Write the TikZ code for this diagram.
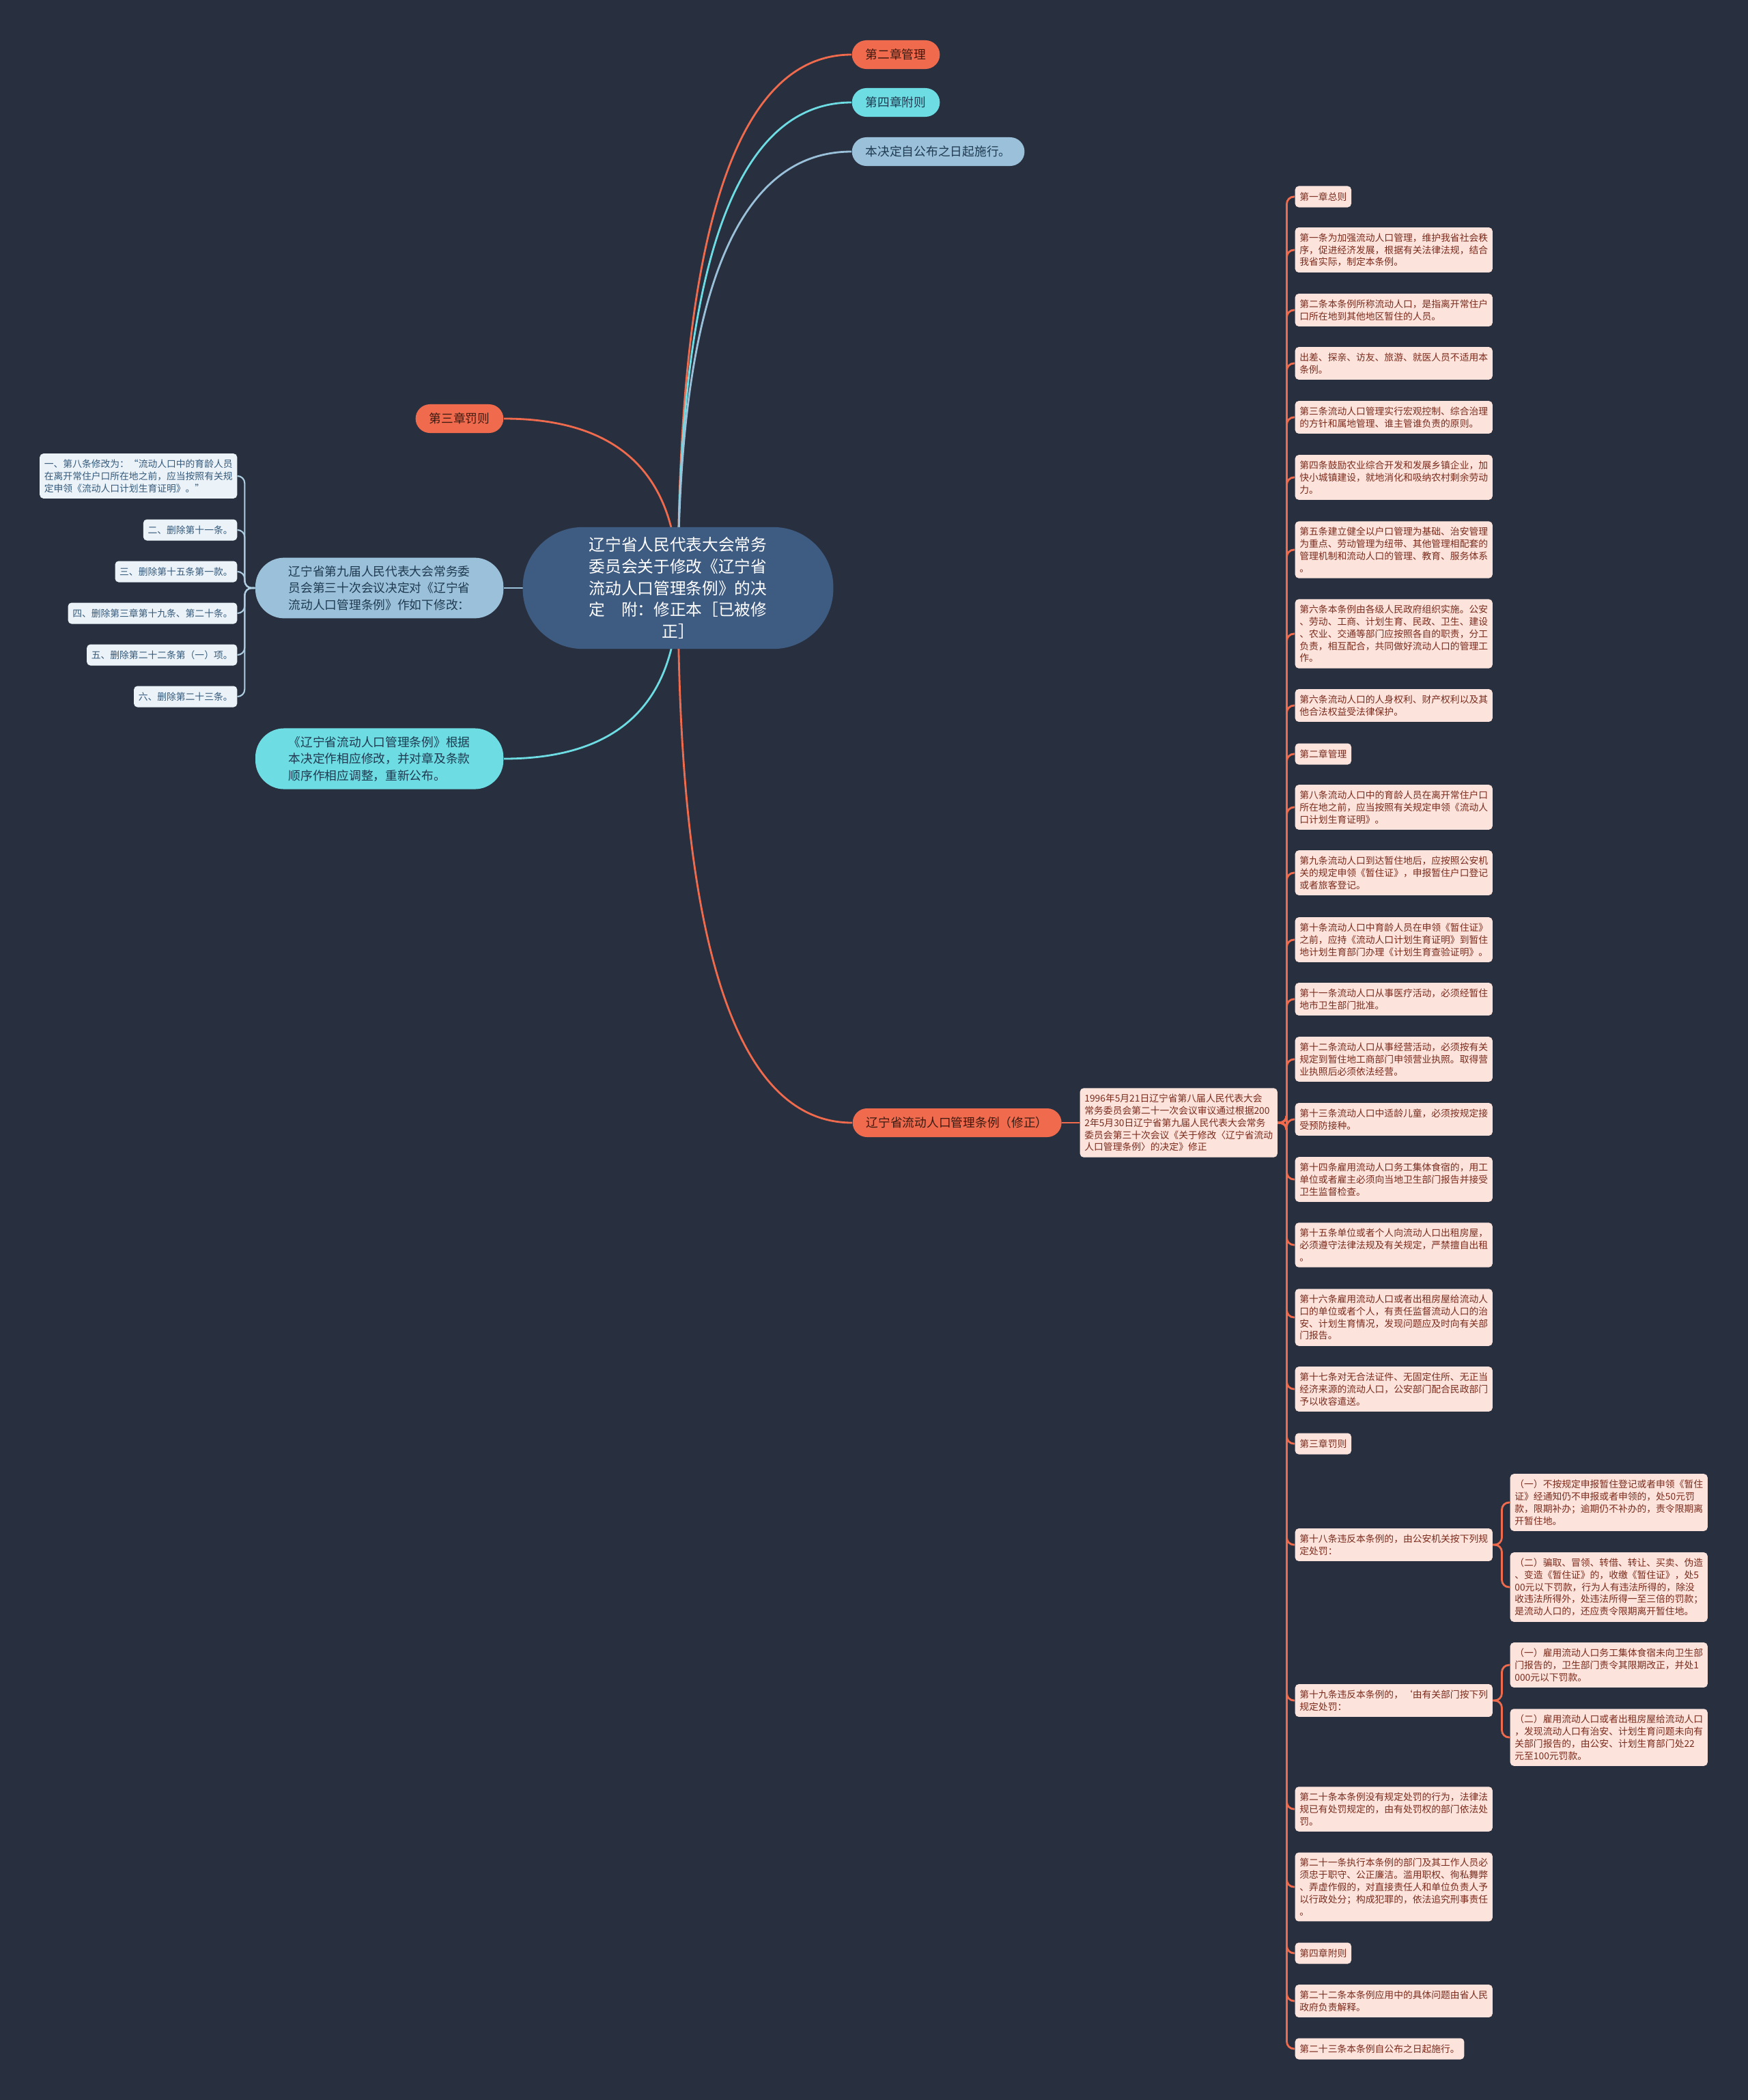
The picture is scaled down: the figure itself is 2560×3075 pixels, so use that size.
\documentclass[tikz,border=0pt]{standalone}
\usepackage{fontspec}
\newfontfamily\cjk{Noto Sans CJK SC}
\definecolor{bgcol}{HTML}{28303F}
\definecolor{rootcol}{HTML}{3E5B81}
\definecolor{orangecol}{HTML}{F06B4D}
\definecolor{cyancol}{HTML}{6EDCE3}
\definecolor{paleblue}{HTML}{9BC1DA}
\definecolor{leafpink}{HTML}{FCE4DD}
\definecolor{leaftext}{HTML}{7A2B1C}
\definecolor{leafblue}{HTML}{EBF3F9}
\definecolor{leafbluetext}{HTML}{35597A}
\definecolor{darktext}{HTML}{3B1A12}
\definecolor{navytext}{HTML}{1F3A50}
\pgfdeclarelayer{bg}
\pgfdeclarelayer{edges}
\pgfsetlayers{bg,edges,main}
\tikzset{
  root/.style={fill=rootcol, text=white, rounded corners=25pt, inner xsep=27.6pt, inner ysep=4.3pt,
    align=center, font=\cjk\fontsize{6.74pt}{8.96pt}\selectfont},
  pill/.style={rounded corners=6pt, inner xsep=5.7pt, inner ysep=3.45pt, minimum height=11.95pt,
    align=left, font=\cjk\fontsize{5.04pt}{6.97pt}\selectfont},
  bigpill/.style={pill, rounded corners=12pt, inner xsep=13.85pt, inner ysep=3.3pt},
  leaf/.style={fill=leafpink, text=leaftext, rounded corners=1.5pt, inner xsep=1.9pt, inner ysep=2.45pt,
    minimum height=8.82pt, align=left, anchor=west, font=\cjk\fontsize{3.92pt}{5.06pt}\selectfont},
  bleaf/.style={leaf, fill=leafblue, text=leafbluetext, anchor=east},
  branch/.style={line width=0.8pt},
  rline/.style={draw=orangecol, line width=0.8pt, rounded corners=3pt},
  bline/.style={draw=paleblue!80!white, line width=0.6pt, rounded corners=3pt}
}
\begin{document}
\begin{tikzpicture}[x=0.01cm,y=-0.01cm]
  \useasboundingbox (0,0) rectangle (2560,3075);
  \begin{pgfonlayer}{bg}
    \fill[bgcol] (0,0) rectangle (2560,3075);
  \end{pgfonlayer}

  % centre and first level
  \node[root] (root) at (993,861) {辽宁省人民代表大会常务\\委员会关于修改《辽宁省\\流动人口管理条例》的决\\定　附：修正本［已被修\\正］};
  \node[pill, fill=orangecol, text=darktext, anchor=west] (ch2) at (1247,80) {第二章管理};
  \node[pill, fill=cyancol, text=navytext, anchor=west] (ch4) at (1247,150) {第四章附则};
  \node[pill, fill=paleblue, text=navytext, anchor=west] (eff) at (1247,222) {本决定自公布之日起施行。};
  \node[pill, fill=orangecol, text=darktext, anchor=east] (ch3) at (738,613) {第三章罚则};
  \node[bigpill, fill=paleblue, text=navytext, anchor=east] (amend) at (738,861) {辽宁省第九届人民代表大会常务委\\员会第三十次会议决定对《辽宁省\\流动人口管理条例》作如下修改：};
  \node[bigpill, fill=cyancol, text=navytext, anchor=east] (renew) at (738,1111) {《辽宁省流动人口管理条例》根据\\本决定作相应修改，并对章及条款\\顺序作相应调整，重新公布。};
  \node[pill, fill=orangecol, text=darktext, anchor=west] (law) at (1248,1644) {辽宁省流动人口管理条例（修正）};
  \node[leaf] (hist) at (1581,1644) {1996年5月21日辽宁省第八届人民代表大会\\常务委员会第二十一次会议审议通过根据200\\2年5月30日辽宁省第九届人民代表大会常务\\委员会第三十次会议《关于修改〈辽宁省流动\\人口管理条例〉的决定》修正};

  % amendments
  \node[bleaf] (m1) at (348,697) {一、第八条修改为：“流动人口中的育龄人员\\在离开常住户口所在地之前，应当按照有关规\\定申领《流动人口计划生育证明》。”};
  \node[bleaf] (m2) at (348,776) {二、删除第十一条。};
  \node[bleaf] (m3) at (348,837) {三、删除第十五条第一款。};
  \node[bleaf] (m4) at (348,898) {四、删除第三章第十九条、第二十条。};
  \node[bleaf] (m5) at (348,959) {五、删除第二十二条第（一）项。};
  \node[bleaf] (m6) at (348,1020) {六、删除第二十三条。};

  % articles
  \node[leaf] (t1) at (1896,288) {第一章总则};
  \node[leaf] (a1) at (1896,366) {第一条为加强流动人口管理，维护我省社会秩\\序，促进经济发展，根据有关法律法规，结合\\我省实际，制定本条例。};
  \node[leaf] (a2) at (1896,454) {第二条本条例所称流动人口，是指离开常住户\\口所在地到其他地区暂住的人员。};
  \node[leaf] (a2b) at (1896,532) {出差、探亲、访友、旅游、就医人员不适用本\\条例。};
  \node[leaf] (a3) at (1896,611) {第三条流动人口管理实行宏观控制、综合治理\\的方针和属地管理、谁主管谁负责的原则。};
  \node[leaf] (a4) at (1896,699) {第四条鼓励农业综合开发和发展乡镇企业，加\\快小城镇建设，就地消化和吸纳农村剩余劳动\\力。};
  \node[leaf] (a5) at (1896,805) {第五条建立健全以户口管理为基础、治安管理\\为重点、劳动管理为纽带、其他管理相配套的\\管理机制和流动人口的管理、教育、服务体系\\。};
  \node[leaf] (a6) at (1896,928) {第六条本条例由各级人民政府组织实施。公安\\、劳动、工商、计划生育、民政、卫生、建设\\、农业、交通等部门应按照各自的职责，分工\\负责，相互配合，共同做好流动人口的管理工\\作。};
  \node[leaf] (a6b) at (1896,1033) {第六条流动人口的人身权利、财产权利以及其\\他合法权益受法律保护。};
  \node[leaf] (t2) at (1896,1104) {第二章管理};
  \node[leaf] (a8) at (1896,1182) {第八条流动人口中的育龄人员在离开常住户口\\所在地之前，应当按照有关规定申领《流动人\\口计划生育证明》。};
  \node[leaf] (a9) at (1896,1278) {第九条流动人口到达暂住地后，应按照公安机\\关的规定申领《暂住证》，申报暂住户口登记\\或者旅客登记。};
  \node[leaf] (a10) at (1896,1376) {第十条流动人口中育龄人员在申领《暂住证》\\之前，应持《流动人口计划生育证明》到暂住\\地计划生育部门办理《计划生育查验证明》。};
  \node[leaf] (a11) at (1896,1463) {第十一条流动人口从事医疗活动，必须经暂住\\地市卫生部门批准。};
  \node[leaf] (a12) at (1896,1551) {第十二条流动人口从事经营活动，必须按有关\\规定到暂住地工商部门申领营业执照。取得营\\业执照后必须依法经营。};
  \node[leaf] (a13) at (1896,1639) {第十三条流动人口中适龄儿童，必须按规定接\\受预防接种。};
  \node[leaf] (a14) at (1896,1727) {第十四条雇用流动人口务工集体食宿的，用工\\单位或者雇主必须向当地卫生部门报告并接受\\卫生监督检查。};
  \node[leaf] (a15) at (1896,1823) {第十五条单位或者个人向流动人口出租房屋，\\必须遵守法律法规及有关规定，严禁擅自出租\\。};
  \node[leaf] (a16) at (1896,1929) {第十六条雇用流动人口或者出租房屋给流动人\\口的单位或者个人，有责任监督流动人口的治\\安、计划生育情况，发现问题应及时向有关部\\门报告。};
  \node[leaf] (a17) at (1896,2034) {第十七条对无合法证件、无固定住所、无正当\\经济来源的流动人口，公安部门配合民政部门\\予以收容遣送。};
  \node[leaf] (t3) at (1896,2114) {第三章罚则};
  \node[leaf] (a18) at (1896,2262) {第十八条违反本条例的，由公安机关按下列规\\定处罚：};
  \node[leaf] (a18i) at (2211,2200) {（一）不按规定申报暂住登记或者申领《暂住\\证》经通知仍不申报或者申领的，处50元罚\\款，限期补办；逾期仍不补办的，责令限期离\\开暂住地。};
  \node[leaf] (a18ii) at (2211,2324) {（二）骗取、冒领、转借、转让、买卖、伪造\\、变造《暂住证》的，收缴《暂住证》，处5\\00元以下罚款，行为人有违法所得的，除没\\收违法所得外，处违法所得一至三倍的罚款；\\是流动人口的，还应责令限期离开暂住地。};
  \node[leaf] (a19) at (1896,2490) {第十九条违反本条例的，‘由有关部门按下列\\规定处罚：};
  \node[leaf] (a19i) at (2211,2438) {（一）雇用流动人口务工集体食宿未向卫生部\\门报告的，卫生部门责令其限期改正，并处1\\000元以下罚款。};
  \node[leaf] (a19ii) at (2211,2544) {（二）雇用流动人口或者出租房屋给流动人口\\，发现流动人口有治安、计划生育问题未向有\\关部门报告的，由公安、计划生育部门处22\\元至100元罚款。};
  \node[leaf] (a20) at (1896,2649) {第二十条本条例没有规定处罚的行为，法律法\\规已有处罚规定的，由有处罚权的部门依法处\\罚。};
  \node[leaf] (a21) at (1896,2763) {第二十一条执行本条例的部门及其工作人员必\\须忠于职守、公正廉洁。滥用职权、徇私舞弊\\、弄虚作假的，对直接责任人和单位负责人予\\以行政处分；构成犯罪的，依法追究刑事责任\\。};
  \node[leaf] (t4) at (1896,2860) {第四章附则};
  \node[leaf] (a22) at (1896,2930) {第二十二条本条例应用中的具体问题由省人民\\政府负责解释。};
  \node[leaf] (a23) at (1896,3000) {第二十三条本条例自公布之日起施行。};

  \begin{pgfonlayer}{edges}
    % branches from the centre
    \draw[branch, orangecol] (root.center) .. controls +(0,-521) and +(-169,0) .. (ch2.west);
    \draw[branch, cyancol] (root.center) .. controls +(0,-474) and +(-169,0) .. (ch4.west);
    \draw[branch, paleblue] (root.center) .. controls +(0,-426) and +(-169,0) .. (eff.west);
    \draw[branch, orangecol] (root.center) .. controls +(0,-165) and +(170,0) .. (ch3.east);
    \draw[branch, paleblue] (root.center) -- (amend.east);
    \draw[branch, cyancol] (root.center) .. controls +(0,167) and +(170,0) .. (renew.east);
    \draw[branch, orangecol] (root.center) .. controls +(0,522) and +(-170,0) .. (law.west);
    \draw[rline] (law.east) -- (hist.west);
    % brackets
    \foreach \m in {m1,m2,m3,m4,m5,m6}
      \draw[bline] (amend.west) -- ++(-15,0) |- (\m.east);
    \foreach \a in {t1,a1,a2,a2b,a3,a4,a5,a6,a6b,t2,a8,a9,a10,a11,a12,a13,a14,a15,a16,a17,t3,a18,a19,a20,a21,t4,a22,a23}
      \draw[rline] (hist.east) -- ++(13,0) |- (\a.west);
    \foreach \a in {a18i,a18ii}
      \draw[rline] (a18.east) -- ++(13,0) |- (\a.west);
    \foreach \a in {a19i,a19ii}
      \draw[rline] (a19.east) -- ++(13,0) |- (\a.west);
  \end{pgfonlayer}
\end{tikzpicture}
\end{document}
